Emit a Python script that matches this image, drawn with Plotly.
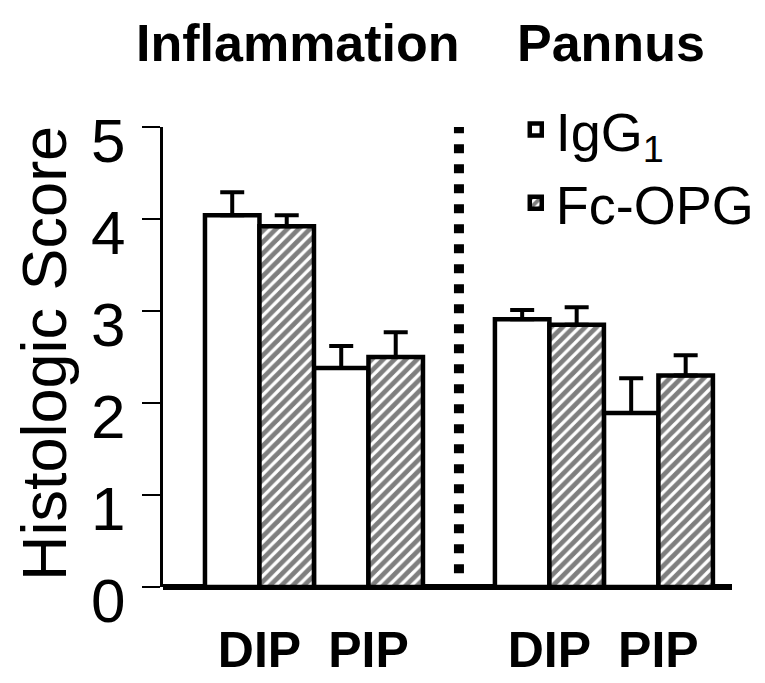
import plotly.graph_objects as go

# ---- data ----
groups = ["Inflammation", "Pannus"]
joints = ["DIP", "PIP"]
series_names = ["IgG<sub>1</sub>", "Fc-OPG"]

igg1_values = [4.04, 2.38, 2.91, 1.89]    # Infl DIP, Infl PIP, Pannus DIP, Pannus PIP
igg1_errors = [0.25, 0.24, 0.10, 0.38]
fcopg_values = [3.92, 2.50, 2.85, 2.30]
fcopg_errors = [0.12, 0.27, 0.19, 0.22]

y_ticks = [0, 1, 2, 3, 4, 5]
y_tick_labels = ["0", "1", "2", "3", "4", "5"]

# ---- layout helpers (positions on a numeric axis, 1 unit = one bar) ----
BAR_W = 1.0
GROUP_STEP = 5.32  # offset between the two panels


def bar_x(series_idx):
    xs = []
    for g in range(len(groups)):
        for j in range(len(joints)):
            xs.append(g * GROUP_STEP + j * 2 + series_idx + 0.5)
    return xs


pair_centers = [g * GROUP_STEP + j * 2 + 1.0 for g in range(len(groups)) for j in range(len(joints))]
pair_labels = [joints[j] for g in range(len(groups)) for j in range(len(joints))]
separator_x = (2 * len(joints) + GROUP_STEP) / 2

FONT = "Liberation Sans, Arial, sans-serif"

fig = go.Figure()

fig.add_trace(go.Bar(
    name=series_names[0],
    x=bar_x(0), y=igg1_values, width=BAR_W,
    marker=dict(color="white", line=dict(color="black", width=4.5)),
    error_y=dict(type="data", symmetric=False, array=igg1_errors,
                 arrayminus=[0] * len(igg1_errors),
                 color="black", thickness=4, width=12),
))
fig.add_trace(go.Bar(
    name=series_names[1],
    x=bar_x(1), y=fcopg_values, width=BAR_W,
    marker=dict(color="white", line=dict(color="black", width=4.5),
                pattern=dict(shape="/", fgcolor="black", bgcolor="white",
                             size=8, solidity=0.6)),
    error_y=dict(type="data", symmetric=False, array=fcopg_errors,
                 arrayminus=[0] * len(fcopg_errors),
                 color="black", thickness=4, width=12),
))

# dotted separator between panels
fig.add_shape(type="line", xref="x", yref="y",
              x0=separator_x, x1=separator_x, y0=5.03, y1=0,
              line=dict(color="black", width=10, dash="9px,11px"))

# y tick labels (sit a little below their ticks, as in the reference)
for v, lab in zip(y_ticks, y_tick_labels):
    fig.add_annotation(text=lab, xref="paper", yref="y", x=0, y=v,
                       xanchor="right", yanchor="middle", xshift=-36, yshift=-13,
                       showarrow=False, font=dict(family=FONT, size=62, color="black"))

# panel titles
fig.add_annotation(text="<b>Inflammation</b>", xref="paper", yref="paper",
                   x=0.2373, y=1.183, xanchor="center", yanchor="middle",
                   showarrow=False, font=dict(family=FONT, size=52, color="black"))
fig.add_annotation(text="<b>Pannus</b>", xref="paper", yref="paper",
                   x=0.788, y=1.183, xanchor="center", yanchor="middle",
                   showarrow=False, font=dict(family=FONT, size=52, color="black"))

# y-axis title
fig.add_annotation(text="Histologic Score", xref="paper", yref="paper",
                   x=-0.2091, y=0.5065, xanchor="center", yanchor="middle",
                   textangle=-90, showarrow=False,
                   font=dict(family=FONT, size=63, color="black"))

fig.update_layout(
    width=765, height=683,
    margin=dict(l=155, r=41, t=119, b=104, autoexpand=False),
    paper_bgcolor="white", plot_bgcolor="white",
    barmode="overlay",
    font=dict(family=FONT, color="black"),
    showlegend=True,
    legend=dict(x=0.62, y=1.085, xanchor="left", yanchor="top",
                bgcolor="rgba(0,0,0,0)", font=dict(family=FONT, size=54, color="black"),
                tracegroupgap=0),
    xaxis=dict(range=[-0.77, 9.67], showgrid=False, zeroline=False, showline=False,
               automargin=False,
               ticks="", tickvals=pair_centers, ticktext=pair_labels,
               tickfont=dict(family=FONT, size=50, color="black", weight="bold"),
               ticklabelstandoff=29),
    yaxis=dict(range=[0, 5], tickvals=y_ticks, showgrid=False, automargin=False,
               showline=True, linewidth=3, linecolor="black",
               ticks="outside", ticklen=18, tickwidth=2, tickcolor="black",
               showticklabels=False,
               zeroline=True, zerolinewidth=6, zerolinecolor="black"),
)

fig.write_html("out.html")
